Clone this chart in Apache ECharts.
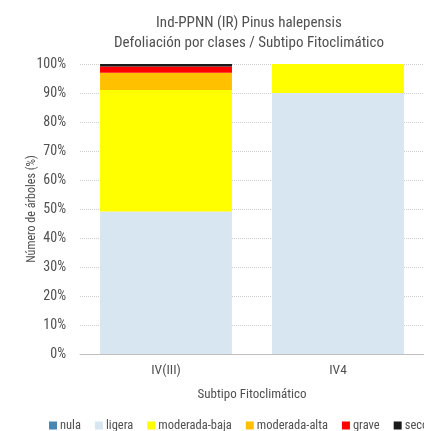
<!DOCTYPE html>
<html><head><meta charset="utf-8">
<script src="https://cdn.jsdelivr.net/npm/echarts@6/dist/echarts.min.js"></script>
<style>html,body{margin:0;padding:0;background:#fff}#c{width:424px;height:431px}</style>
</head><body><div id="c"></div>
<script>
const categories = ['IV(III)', 'IV4'];
const seriesNames = ['nula', 'ligera', 'moderada-baja', 'moderada-alta', 'grave', 'seco'];
const nula = [0, 0];
const ligera = [49.1, 90.0];
const moderadaBaja = [41.9, 10.0];
const moderadaAlta = [6.0, 0];
const grave = [2.1, 0];
const seco = [0.9, 0];
const yTicks = [0, 10, 20, 30, 40, 50, 60, 70, 80, 90, 100];
const colors = ['#4a86b4', '#d7e6f0', '#ffff00', '#ffc000', '#ff0000', '#1a1a1a'];
const values = [nula, ligera, moderadaBaja, moderadaAlta, grave, seco];
const FONT = '"Liberation Sans Narrow", "Roboto Condensed", "DejaVu Sans Condensed", sans-serif';
const TXT = '#505050';
const chart = echarts.init(document.getElementById('c'));
chart.setOption({
  animation: false,
  textStyle: { fontFamily: FONT },
  title: {
    text: 'Ind-PPNN (IR) Pinus halepensis\nDefoliación por clases / Subtipo Fitoclimático',
    left: 244, top: 8, textAlign: 'center',
    textStyle: { fontFamily: FONT, fontSize: 15, fontWeight: 'normal', color: TXT, lineHeight: 20 }
  },
  legend: {
    left: 44, top: 414, width: 800, itemWidth: 8, itemHeight: 8, itemGap: 14,
    icon: 'rect',
    textStyle: { fontFamily: FONT, fontSize: 12.5, color: TXT, padding: [0, 0, 0, -2] },
    data: seriesNames
  },
  grid: { left: 80, right: -6, top: 64, bottom: 77 },
  xAxis: {
    type: 'category', data: categories,
    name: 'Subtipo Fitoclimático', nameLocation: 'middle', nameGap: 34,
    nameMoveOverlap: false,
    nameTextStyle: { fontFamily: FONT, fontSize: 13, color: TXT },
    axisLine: { lineStyle: { color: '#bfbfbf' } },
    axisTick: { show: false },
    axisLabel: { fontFamily: FONT, fontSize: 13.5, color: TXT, margin: 10 }
  },
  yAxis: {
    type: 'value', min: 0, max: 100, interval: 10,
    name: 'Número de árboles (%)', nameLocation: 'middle', nameGap: 42,
    nameMoveOverlap: false,
    nameTextStyle: { fontFamily: FONT, fontSize: 12, color: TXT },
    axisLabel: { fontFamily: FONT, fontSize: 14, color: TXT, margin: 14,
      formatter: v => yTicks.includes(v) ? v + '%' : '' },
    splitLine: { lineStyle: { color: '#d0d0d0', type: [1, 1] } },
    axisLine: { show: false }, axisTick: { show: false }
  },
  series: seriesNames.map((n, i) => ({
    name: n, type: 'bar', stack: 'a', data: values[i],
    barCategoryGap: '23.3%',
    itemStyle: { color: colors[i] }
  }))
});
</script></body></html>
